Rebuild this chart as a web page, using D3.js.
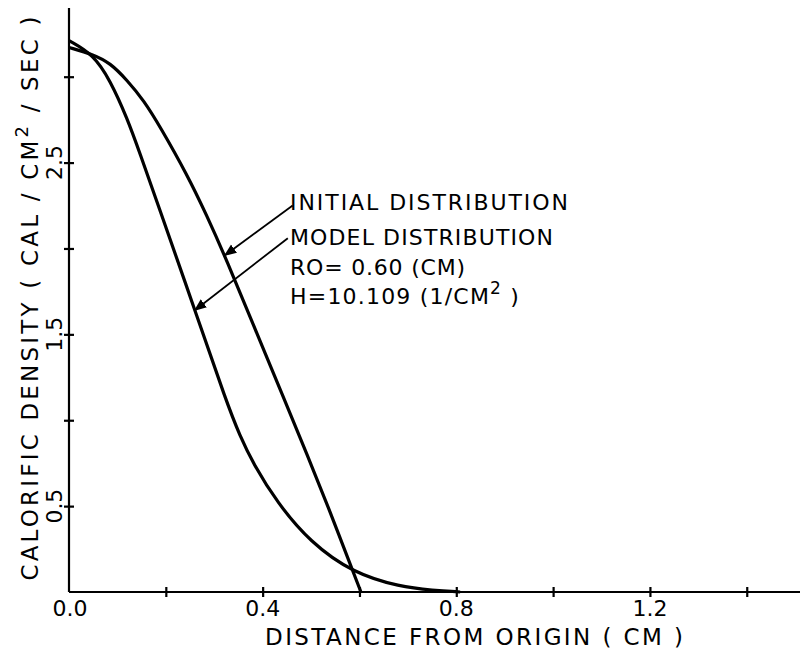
<!DOCTYPE html>
<html lang="en">
  <head>
    <meta charset="UTF-8" />
    <title>Calorific density</title>
    <script src="https://cdn.jsdelivr.net/npm/d3@7/dist/d3.min.js"></script>
    <style>
      body { margin: 0; background: #fff; }
      text { font-family: "DejaVu Sans", sans-serif; fill: #000; }
    </style>
  </head>
  <body>
    <svg width="800" height="657"></svg>
  </body>
  <script>
    // distance from origin (cm) / calorific density
    var initialX = [0, 0.05, 0.085, 0.12, 0.155, 0.188, 0.244, 0.285, 0.326, 0.38, 0.442, 0.492, 0.539, 0.566, 0.603];
    var initialY = [3.17, 3.13, 3.08, 2.98, 2.86, 2.71, 2.43, 2.19, 1.93, 1.56, 1.14, 0.8, 0.47, 0.27, 0];
    var modelX = [0, 0.05, 0.085, 0.12, 0.147, 0.182, 0.264, 0.326, 0.353, 0.38, 0.43, 0.498, 0.587, 0.684, 0.752, 0.808];
    var modelY = [3.21, 3.13, 2.98, 2.76, 2.55, 2.27, 1.61, 1.1, 0.91, 0.75, 0.52, 0.29, 0.11, 0.03, 0.01, 0];

    var xTicks = [0.2, 0.4, 0.6, 0.8, 1.0, 1.2, 1.4];
    var xTickLabels = ["0.0", "0.4", "0.8", "1.2"];
    var yTicks = [0.5, 1.0, 1.5, 2.0, 2.5, 3.0];
    var yTickLabels = ["0.5", "1.5", "2.5"];

    var svg = d3.select("svg");

    var x = d3.scaleLinear().domain([0, 1.51]).range([69, 800]);
    var y = d3.scaleLinear().domain([0, 3.4]).range([592, 8]);

    // axes, ticks crossing the line on both sides
    var xAxis = d3.axisBottom(x).tickValues(xTicks).tickSize(6).tickFormat("");
    var yAxis = d3.axisLeft(y).tickValues(yTicks).tickSize(6).tickFormat("");

    var gx = svg.append("g").attr("transform", "translate(0," + y(0) + ")").call(xAxis);
    var gy = svg.append("g").attr("transform", "translate(" + x(0) + ",0)").call(yAxis);

    gx.select(".domain").attr("d", "M" + x(0) + ",0H800");
    gy.select(".domain").attr("d", "M0," + y(3.4) + "V" + y(0));
    gx.selectAll(".tick line").attr("y1", -5).attr("y2", 5);
    gy.selectAll(".tick line").attr("x1", -5).attr("x2", 5);
    svg.selectAll(".domain, .tick line")
      .attr("stroke", "#000")
      .attr("stroke-width", 2.2);

    // tick labels
    svg.selectAll(".xlab")
      .data(xTickLabels)
      .enter()
      .append("text")
      .attr("class", "xlab")
      .attr("x", (d) => x(+d) + (+d === 0 ? 1 : 0))
      .attr("y", 616)
      .attr("text-anchor", "middle")
      .attr("font-size", "22px")
      .text((d) => d);

    svg.selectAll(".ylab")
      .data(yTickLabels)
      .enter()
      .append("text")
      .attr("class", "ylab")
      .attr("transform", (d) => "translate(62," + y(+d) + ") rotate(-90)")
      .attr("text-anchor", "middle")
      .attr("font-size", "22px")
      .text((d) => d);

    // axis titles
    svg.append("text")
      .attr("x", 474)
      .attr("y", 645)
      .attr("text-anchor", "middle")
      .attr("font-size", "23px")
      .attr("textLength", 418)
      .attr("lengthAdjust", "spacing")
      .text("DISTANCE  FROM  ORIGIN  ( CM )");

    var yt = svg.append("text")
      .attr("transform", "translate(38,297) rotate(-90)")
      .attr("text-anchor", "middle")
      .attr("font-size", "23px")
      .attr("letter-spacing", "3.2px");
    yt.append("tspan").text("CALORIFIC  DENSITY   ( CAL / CM");
    yt.append("tspan").attr("dy", -10).attr("font-size", "18px").text("2");
    yt.append("tspan").attr("dy", 10).text(" / SEC )");

    // curves
    var line = d3.line()
      .x((d) => x(d[0]))
      .y((d) => y(d[1]))
      .curve(d3.curveBasis);

    var initial = initialX.map((d, i) => [d, initialY[i]]);
    var model = modelX.map((d, i) => [d, modelY[i]]);

    svg.selectAll(".curve")
      .data([initial, model])
      .enter()
      .append("path")
      .attr("class", "curve")
      .attr("d", line)
      .attr("fill", "none")
      .attr("stroke", "#000")
      .attr("stroke-width", 3.2);

    // annotation text
    var notes = svg.append("g").attr("font-size", "22px");
    notes.append("text").attr("x", 290).attr("y", 210).attr("textLength", 278).attr("lengthAdjust", "spacing").text("INITIAL DISTRIBUTION");
    notes.append("text").attr("x", 290).attr("y", 245).attr("textLength", 263).attr("lengthAdjust", "spacing").text("MODEL DISTRIBUTION");
    notes.append("text").attr("x", 290).attr("y", 275).attr("letter-spacing", "0.8px").text("RO= 0.60 (CM)");
    var h = notes.append("text").attr("x", 290).attr("y", 304).attr("letter-spacing", "1.2px");
    h.append("tspan").text("H=10.109 (1/CM");
    h.append("tspan").attr("dy", -10).attr("font-size", "17px").text("2");
    h.append("tspan").attr("dy", 10).text("   )");

    // arrows pointing to the curves
    svg.append("defs")
      .append("marker")
      .attr("id", "head")
      .attr("viewBox", "0 0 10 10")
      .attr("refX", 9)
      .attr("refY", 5)
      .attr("markerWidth", 7)
      .attr("markerHeight", 7)
      .attr("orient", "auto")
      .append("path")
      .attr("d", "M0,1L10,5L0,9z")
      .attr("fill", "#000");

    var arrows = [
      { from: [0.462, 2.25], to: [0.322, 1.96] },
      { from: [0.452, 2.06], to: [0.26, 1.64] }
    ];
    svg.selectAll(".arrow")
      .data(arrows)
      .enter()
      .append("line")
      .attr("x1", (d) => x(d.from[0]))
      .attr("y1", (d) => y(d.from[1]))
      .attr("x2", (d) => x(d.to[0]))
      .attr("y2", (d) => y(d.to[1]))
      .attr("stroke", "#000")
      .attr("stroke-width", 1.8)
      .attr("marker-end", "url(#head)");
  </script>
</html>
